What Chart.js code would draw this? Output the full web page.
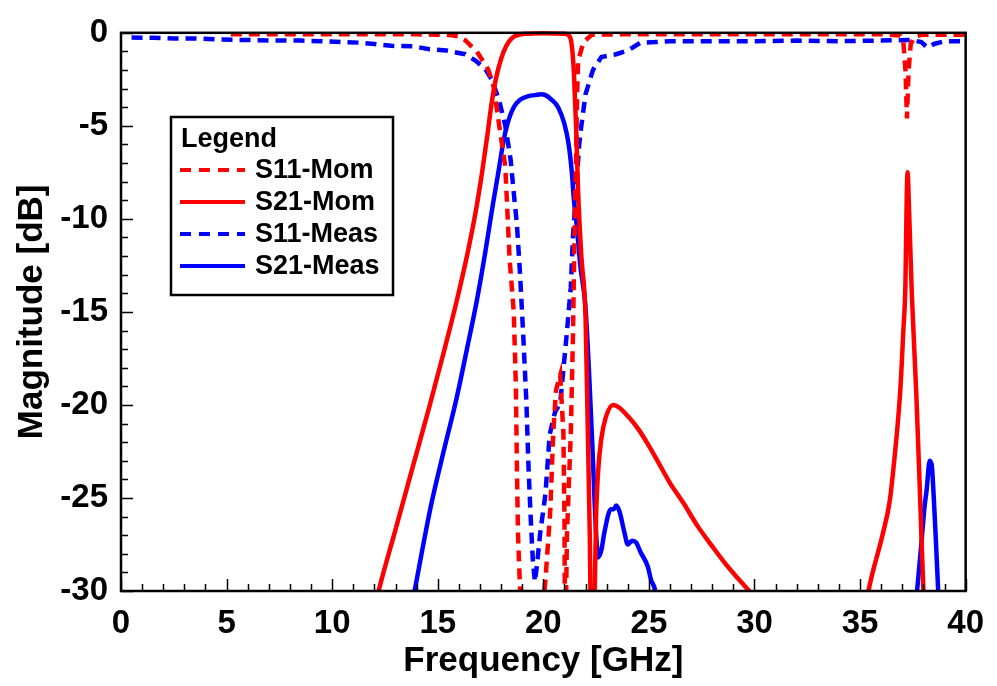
<!DOCTYPE html>
<html>
<head>
<meta charset="utf-8">
<script src="https://cdn.jsdelivr.net/npm/chart.js@4/dist/chart.umd.min.js"></script>
<style>
  html, body { margin: 0; padding: 0; background: #fff; }
  #wrap { width: 997px; height: 686px; position: relative; }
</style>
</head>
<body>
<div id="wrap"><canvas id="c"></canvas></div>
<script>
// ---------------- data ----------------
const seriesNames = ['S11-Mom', 'S21-Mom', 'S11-Meas', 'S21-Meas'];

const s11MomFreq = [5.2, 6, 8, 10, 12, 14, 15, 15.6, 16.0, 16.3, 16.85, 17.4, 17.65, 17.9, 18.2, 18.4, 18.6, 18.7, 18.75, 18.8, 18.9, 19.5,
  20.05, 20.1, 20.33, 20.47, 20.6, 20.8, 20.95, 21.0, 21.03, 21.12, 21.2, 21.3, 21.4, 21.45, 21.5, 21.55, 21.6, 21.65, 21.9, 22.3, 24, 26, 28, 30, 32, 34, 36, 36.9, 37.05, 37.15, 37.22, 37.3, 37.4, 37.6, 38, 39, 40];
const s11MomDb = [-0.08, -0.08, -0.08, -0.08, -0.08, -0.08, -0.1, -0.12, -0.2, -0.4, -1.0, -2.0, -2.9, -4.9, -7.2, -12.1, -15, -19, -23.4, -26.9, -30, -40,
  -30, -29.4, -25.7, -21.5, -19.2, -18.4, -21.5, -26, -34, -27, -24.5, -21.6, -16.5, -12.8, -9.4, -6.8, -3.3, -1.5, -0.5, -0.1, -0.08, -0.08, -0.08, -0.08, -0.08, -0.08, -0.08, -0.15, -0.5, -2.0, -4.6, -2.0, -0.6, -0.2, -0.1, -0.1, -0.1];

const s21MomFreq = [12.0, 12.2, 13.0, 13.8, 14.6, 15.3, 15.9, 16.4, 16.8, 17.1, 17.35, 17.55, 17.75, 18.0, 18.25, 18.5, 18.8, 19.2, 20.0, 21.0, 21.25, 21.35, 21.45, 21.55, 21.65, 21.8, 22.0, 22.1, 22.2, 22.3,
  22.4, 22.45, 22.5, 22.6, 22.75, 22.95, 23.3, 23.6, 24.0, 24.5, 25.0, 25.5, 26.0, 26.65, 27.3, 28.0, 28.6, 29.2, 29.75, 30.2,
  35.0, 35.4, 36.04, 36.4, 36.6, 36.9, 37.05, 37.15, 37.2, 37.25, 37.32, 37.45, 37.66, 37.85, 38.0, 38.2];
const s21MomDb = [-31, -30, -26.7, -23.4, -20.1, -17.1, -14.4, -11.9, -9.6, -7.5, -5.5, -3.8, -2.5, -1.4, -0.7, -0.3, -0.12, -0.05, -0.02, -0.05, -0.2, -0.7, -2.2, -5, -8.6, -12, -15.3, -21, -27, -36,
  -33, -29, -26, -23.5, -21.8, -20.7, -20.0, -20.15, -20.6, -21.3, -22.2, -23.2, -24.2, -25.3, -26.5, -27.6, -28.5, -29.3, -30, -30.6,
  -33, -30, -27.1, -25.2, -23.2, -19.3, -16, -13.4, -9.5, -7.5, -9.5, -14, -19.3, -25.2, -30, -34];

const s11MeasFreq = [0.5, 1.5, 2.5, 3.5, 4.5, 5.5, 6.5, 7.5, 8.5, 9.5, 10.5, 11.3, 12.0, 12.8, 13.8, 14.6, 15.4, 16.3, 16.8, 17.25, 17.55, 17.9, 18.2, 18.45, 18.6, 18.75, 18.9, 19.05, 19.2, 19.3, 19.4, 19.5, 19.6, 19.7, 19.85, 20.1, 20.3, 20.55, 20.8, 20.95, 21.1, 21.3, 21.4, 21.55, 21.7, 21.8, 22.0, 22.35, 22.75, 23.45, 24.0, 24.6, 25.3, 26.0, 28, 30, 32, 34, 36, 37.4, 37.9, 38.2, 38.5, 39.0, 39.5, 40];
const s11MeasDb = [-0.25, -0.27, -0.3, -0.3, -0.35, -0.38, -0.4, -0.42, -0.42, -0.45, -0.5, -0.53, -0.6, -0.7, -0.72, -0.88, -0.95, -1.15, -1.5, -1.95, -2.5, -3.6, -5, -6.8, -8.6, -10.3, -13, -16.3, -19.9, -23.4, -26, -28.3, -29.5, -28.6, -26.9, -24.8, -21.6, -20.4, -19.9, -18.1, -16.3, -13.7, -11, -8.5, -6, -5, -3.3, -2.0, -1.3, -1.15, -0.95, -0.53, -0.5, -0.45, -0.45, -0.45, -0.42, -0.45, -0.42, -0.38, -0.5, -0.8, -0.6, -0.45, -0.45, -0.45];

const s21MeasFreq = [13.7, 13.9, 14.3, 14.7, 15.3, 15.9, 16.4, 16.85, 17.25, 17.6, 17.9, 18.1, 18.3, 18.6, 18.9, 19.3, 19.6, 19.9, 20.1, 20.4, 20.7, 21.0, 21.2, 21.35, 21.45, 21.55, 21.65, 21.75, 22.0, 22.3, 22.5, 22.6, 22.75, 22.9, 23.2, 23.35, 23.45, 23.6, 23.85, 24.0, 24.2, 24.4, 24.6, 24.95, 25.1, 25.3, 25.5,
  37.5, 37.7, 37.9, 38.05, 38.15, 38.3, 38.4, 38.5, 38.6, 38.7, 38.9];
const s21MeasDb = [-31, -30, -27.6, -25.3, -22.4, -19.6, -16.9, -14.4, -11.8, -9.3, -7.3, -5.9, -4.9, -4.0, -3.6, -3.4, -3.35, -3.3, -3.35, -3.6, -4.0, -4.9, -6.0, -7.5, -9.0, -10.0, -11.2, -12.5, -14.8, -21.6, -26.9, -28.2, -27.8, -26.8, -25.6, -25.6, -25.4, -25.7, -26.9, -27.5, -27.3, -27.4, -27.9, -28.7, -29.4, -30, -32,
  -33, -30, -27.5, -25.5, -24.6, -23.0, -23.3, -25.2, -27.5, -30, -33];

const xTicks = [0, 5, 10, 15, 20, 25, 30, 35, 40];
const yTicks = [0, -5, -10, -15, -20, -25, -30];
const xMinorStep = 1;
const yMinorStep = 1;

// ---------------- build ----------------
const pts = (xs, ys) => xs.map((x, i) => ({ x: x, y: ys[i] }));
const RED = '#ff0000', BLUE = '#0000ff';
const DASH = [11, 7];

const datasets = [
  { label: seriesNames[0], data: pts(s11MomFreq, s11MomDb), borderColor: RED, borderDash: DASH, tension: 0 },
  { label: seriesNames[1], data: pts(s21MomFreq, s21MomDb), borderColor: RED, borderDash: [], cubicInterpolationMode: 'monotone' },
  { label: seriesNames[2], data: pts(s11MeasFreq, s11MeasDb), borderColor: BLUE, borderDash: DASH, tension: 0 },
  { label: seriesNames[3], data: pts(s21MeasFreq, s21MeasDb), borderColor: BLUE, borderDash: [], cubicInterpolationMode: 'monotone' },
].map(d => Object.assign({
  showLine: true, pointRadius: 0, borderWidth: 4.5, tension: 0.4, fill: false,
  cubicInterpolationMode: 'default',
  backgroundColor: d.borderColor, clip: { left: 0, right: 0, top: 4, bottom: 0 }
}, d));

const FONT = '"Liberation Sans", Arial, sans-serif';

const framePlugin = {
  id: 'frameTicks',
  afterDatasetsDraw(chart) {
    const { ctx, chartArea: a, scales: { x, y } } = chart;
    ctx.save();
    ctx.strokeStyle = '#000';
    ctx.lineWidth = 1.5;
    ctx.beginPath();
    for (let v = x.min; v <= x.max + 1e-9; v += xMinorStep) {
      const px = Math.round(x.getPixelForValue(v)) + 0.5;
      const len = xTicks.includes(Math.round(v)) ? 12 : 7;
      ctx.moveTo(px, a.bottom); ctx.lineTo(px, a.bottom - len);
    }
    for (let v = y.min; v <= y.max + 1e-9; v += yMinorStep) {
      const py = Math.round(y.getPixelForValue(v)) + 0.5;
      const len = yTicks.includes(Math.round(v)) ? 12 : 7;
      ctx.moveTo(a.left, py); ctx.lineTo(a.left + len, py);
    }
    ctx.stroke();
    ctx.lineWidth = 2.5;
    ctx.strokeRect(a.left, a.top, a.right - a.left, a.bottom - a.top);
    ctx.restore();
  },
  afterDraw(chart) {
    const { ctx } = chart;
    const bx = 171, by = 117, bw = 222, bh = 178;
    ctx.save();
    ctx.fillStyle = '#fff';
    ctx.fillRect(bx, by, bw, bh);
    ctx.strokeStyle = '#000';
    ctx.lineWidth = 2.5;
    ctx.strokeRect(bx, by, bw, bh);
    ctx.fillStyle = '#000';
    ctx.textBaseline = 'middle';
    ctx.font = 'bold 27px ' + FONT;
    ctx.fillText('Legend', bx + 10, by + 23);
    chart.data.datasets.forEach((ds, i) => {
      const yy = by + 53 + i * 32;
      ctx.strokeStyle = ds.borderColor;
      ctx.lineWidth = 4;
      ctx.setLineDash(ds.borderDash.length ? [11, 8] : []);
      ctx.beginPath();
      ctx.moveTo(bx + 9, yy); ctx.lineTo(bx + 74, yy);
      ctx.stroke();
      ctx.setLineDash([]);
      ctx.fillStyle = '#000';
      ctx.fillText(ds.label, bx + 84, yy + 1);
    });
    ctx.restore();
  }
};

new Chart(document.getElementById('c'), {
  type: 'scatter',
  data: { datasets },
  plugins: [framePlugin],
  options: {
    responsive: true,
    maintainAspectRatio: false,
    animation: false,
    layout: { padding: { top: 25, right: 28, left: 0, bottom: 0 } },
    plugins: { legend: { display: false }, tooltip: { enabled: false } },
    scales: {
      x: {
        type: 'linear', min: 0, max: 40,
        afterFit: s => { s.height = 95; },
        afterBuildTicks: s => { s.ticks = xTicks.map(v => ({ value: v })); },
        grid: { display: false, drawTicks: false }, border: { display: false },
        ticks: { color: '#000', padding: 13, font: { family: FONT, size: 33, weight: 'bold' }, maxRotation: 0 },
        title: { display: true, text: 'Frequency [GHz]', color: '#000', padding: { top: 0, bottom: 4 }, font: { family: FONT, size: 35, weight: 'bold' } }
      },
      y: {
        type: 'linear', min: -30, max: 0,
        afterFit: s => { s.width = 121; },
        afterBuildTicks: s => { s.ticks = yTicks.map(v => ({ value: v })); },
        grid: { display: false, drawTicks: false }, border: { display: false },
        ticks: { color: '#000', padding: 13, font: { family: FONT, size: 33, weight: 'bold' } },
        title: { display: true, text: 'Magnitude [dB]', color: '#000', padding: { top: 11, bottom: 0 }, font: { family: FONT, size: 35, weight: 'bold' } }
      }
    }
  }
});
</script>
</body>
</html>
